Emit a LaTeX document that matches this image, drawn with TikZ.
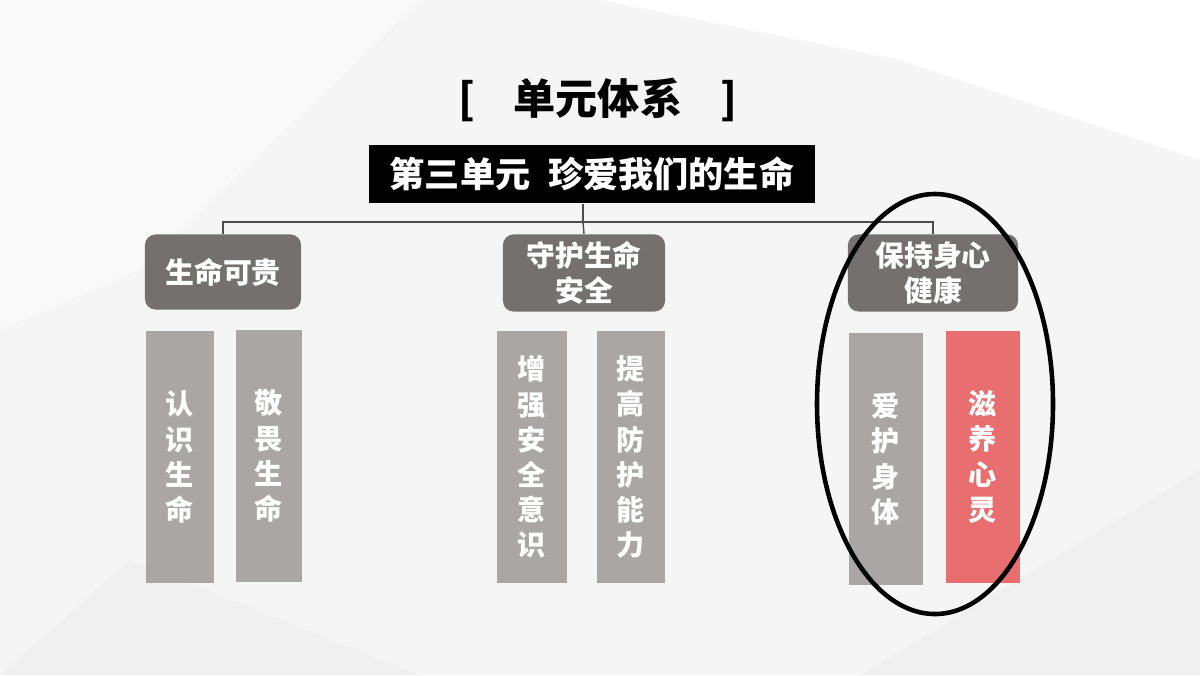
\documentclass[tikz,border=0pt]{standalone}
\usepackage{fontspec}
\newfontfamily\cjk{Noto Sans CJK SC}
\usetikzlibrary{positioning}
\definecolor{headgray}{HTML}{747070}
\definecolor{bargray}{HTML}{AAA6A5}
\definecolor{barred}{HTML}{E86E70}
\begin{document}
\begin{tikzpicture}[x=0.01cm,y=-0.01cm]
\tikzset{head/.style = {fill=headgray,rounded corners=3pt,text=white,font=\cjk\bfseries\fontsize{8.2}{10}\selectfont,align=center,inner sep=0pt}}
\tikzset{bar/.style = {fill=bargray,text=white,font=\cjk\bfseries\fontsize{8}{10}\selectfont,align=center,inner sep=0pt}}
\tikzset{link/.style = {draw=black!70,line width=0.4pt}}
% background
\fill[gray!8] (0,0) rectangle (1200,675);
\fill[white!70!gray!15] (0,0) -- (420,0) -- (140,270) -- (0,330) -- cycle;
\fill[white] (600,0) -- (1200,0) -- (1200,160) -- (900,60) -- cycle;
\fill[gray!12] (0,675) -- (130,560) -- (420,675) -- cycle;
\fill[gray!12] (860,675) -- (1200,470) -- (1200,675) -- cycle;
\useasboundingbox (0,0) rectangle (1200,675);
% title
\node[font=\cjk\bfseries\fontsize{12}{14}\selectfont] (title) at (598,100) {[\hspace{0.9em}单元体系\hspace{0.9em}]};
\node[fill=black,text=white,font=\cjk\bfseries\fontsize{10}{12}\selectfont,minimum width=4.45cm,minimum height=0.58cm,inner sep=0pt] (unit) at (592,174) {第三单元\hspace{0.5em}珍爱我们的生命};
% headers
\node[head,minimum width=1.56cm,minimum height=0.75cm] (h1) at (223,272) {生命可贵};
\node[head,minimum width=1.62cm,minimum height=0.77cm] (h2) at (584,273) {守护生命\\安全};
\node[head,minimum width=1.70cm,minimum height=0.77cm] (h3) at (933,273) {保持身心\\健康};
% connectors
\coordinate (j) at (583,222);
\draw[link] (unit.south -| j) -- (j);
\draw[link] (h1.north) |- (j) -| (h3.north);
\draw[link] (j) -- (h2.north);
% bars
\node[bar,minimum width=0.68cm,minimum height=2.52cm] (b1) at (180,457) {认\\识\\生\\命};
\node[bar,minimum width=0.65cm,minimum height=2.51cm] (b2) at (269,456) {敬\\畏\\生\\命};
\node[bar,minimum width=0.69cm,minimum height=2.51cm] (b3) at (532,457) {增\\强\\安\\全\\意\\识};
\node[bar,minimum width=0.68cm,minimum height=2.51cm] (b4) at (631,457) {提\\高\\防\\护\\能\\力};
\node[bar,minimum width=0.73cm,minimum height=2.51cm] (b5) at (886,459) {爱\\护\\身\\体};
\node[bar,fill=barred,minimum width=0.73cm,minimum height=2.51cm] (b6) at (983,457) {滋\\养\\心\\灵};
% highlight
\draw[line width=1.3pt] (935,404) ellipse [x radius=118, y radius=210];
\end{tikzpicture}
\end{document}
